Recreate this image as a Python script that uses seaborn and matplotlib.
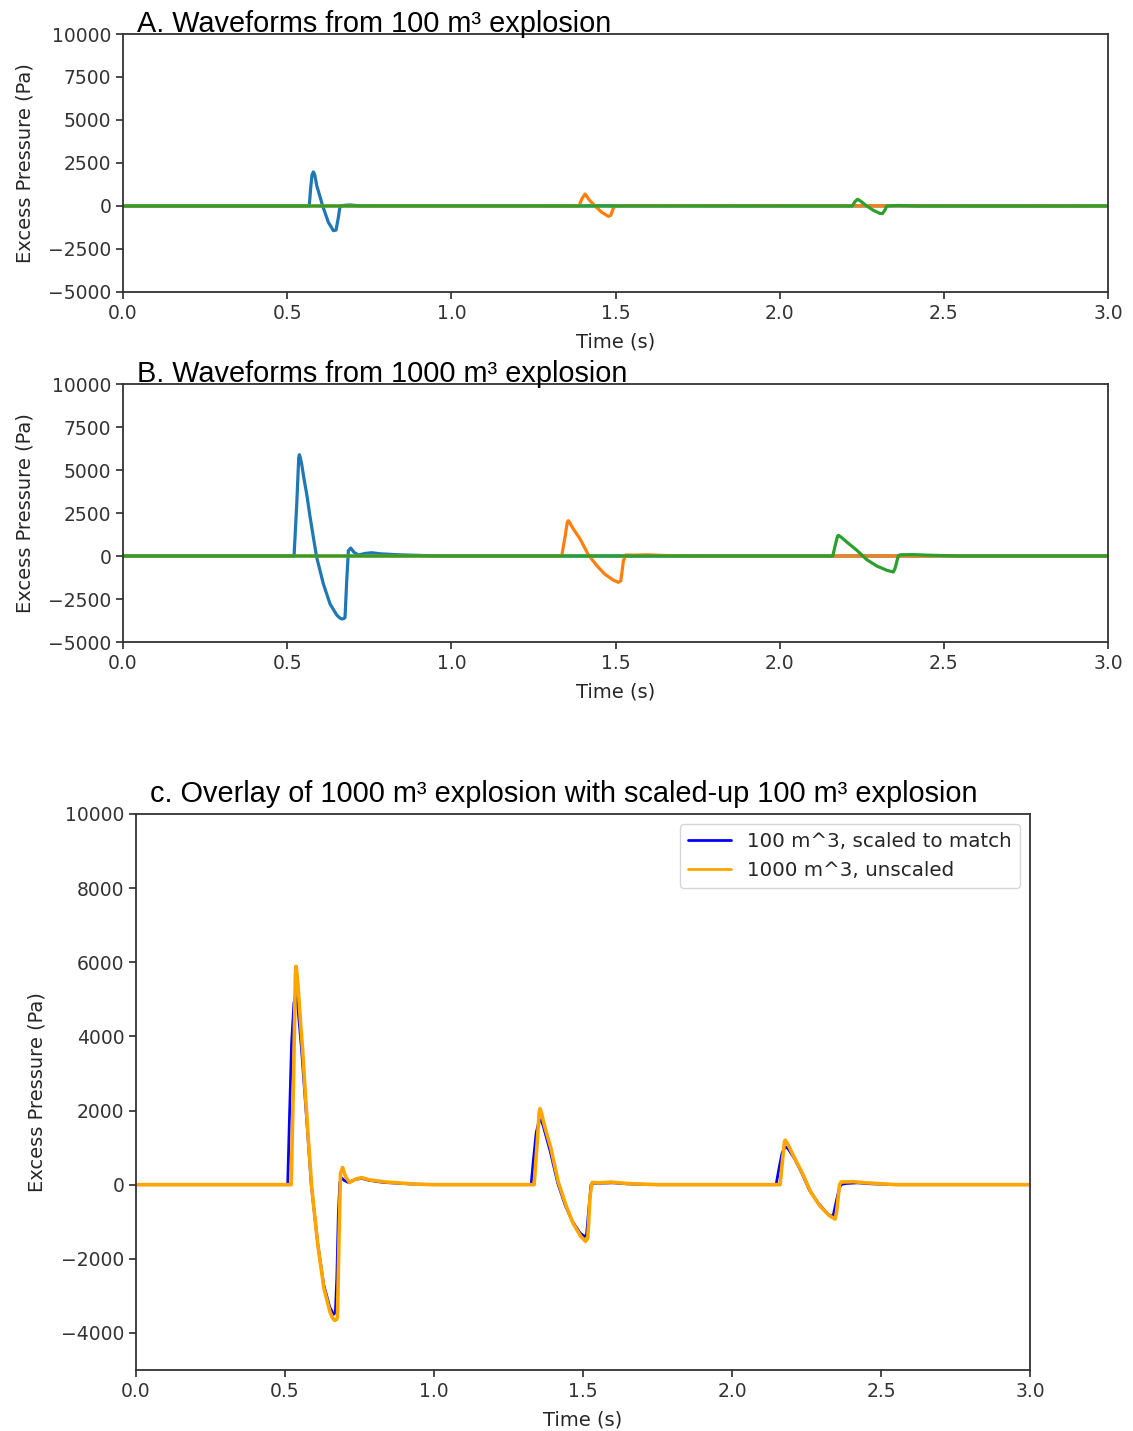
import numpy as np
import pandas as pd
import matplotlib
matplotlib.use("Agg")
import matplotlib.pyplot as plt
import seaborn as sns

# ---------------- data ----------------
# Panel A: 100 m^3 explosion, three stations (event portions; zero elsewhere)
a1_t = [0.567, 0.5716, 0.5756, 0.5797, 0.5838, 0.590, 0.599, 0.608, 0.6254, 0.6406, 0.6487, 0.6558, 0.661, 0.675, 0.691, 0.722]
a1_p = [0, 1080, 1820, 1980, 1820, 1180, 600, 0, -950, -1435, -1400, -660, 0, 40, 60, 10]
a2_t = [1.3888, 1.397, 1.4071, 1.420, 1.4376, 1.458, 1.478, 1.4853, 1.4934, 1.4985, 1.53]
a2_p = [0, 400, 700, 350, 0, -370, -600, -550, -120, 0, 20]
a3_t = [2.221, 2.229, 2.237, 2.245, 2.265, 2.285, 2.305, 2.313, 2.320, 2.326, 2.36, 2.42]
a3_p = [0, 250, 390, 300, 0, -250, -430, -440, -250, 0, 30, 0]

# Panel B: 1000 m^3 explosion, three stations
b1_t = [0.5208, 0.529, 0.535, 0.537, 0.540, 0.544, 0.551, 0.5594, 0.569, 0.5797, 0.5898, 0.6102, 0.6305,
        0.6508, 0.660, 0.666, 0.6725, 0.6761, 0.6812, 0.6863, 0.6934, 0.7036, 0.7168, 0.737, 0.7574,
        0.7827, 0.8335, 0.935, 1.0]
b1_p = [0, 3000, 5700, 5890, 5700, 5350, 4500, 3600, 2350, 1080, -80, -1630, -2790,
        -3430, -3600, -3660, -3640, -3570, -1440, 310, 465, 210, 58, 150, 190,
        130, 75, 15, 0]
b2_t = [1.336, 1.346, 1.353, 1.356, 1.360, 1.3715, 1.392, 1.417, 1.443, 1.467, 1.493, 1.5086, 1.516,
        1.524, 1.531, 1.554, 1.595, 1.65, 1.75]
b2_p = [0, 1100, 1950, 2050, 1950, 1570, 990, 75, -560, -1050, -1400, -1530, -1440,
        -270, 60, 50, 70, 30, 0]
b3_t = [2.1615, 2.170, 2.176, 2.1787, 2.183, 2.19, 2.204, 2.235, 2.265, 2.2955, 2.326, 2.346, 2.351,
        2.361, 2.366, 2.407, 2.448, 2.55]
b3_p = [0, 700, 1150, 1200, 1150, 1050, 815, 330, -210, -580, -830, -930, -735,
        0, 70, 80, 50, 0]

# Panel C: 100 m^3 waveforms scaled to match (blue)
c1_t = [0.509, 0.515, 0.522, 0.530, 0.536, 0.542, 0.555, 0.575, 0.588, 0.61, 0.63, 0.65, 0.663, 0.669,
        0.674, 0.679, 0.684, 0.690, 0.698, 0.712, 0.735, 0.757, 0.78, 0.83, 0.93, 1.0]
c1_p = [0, 1800, 3800, 4900, 5150, 4900, 3700, 1500, 0, -1600, -2700, -3300, -3500, -3450,
        -2500, -800, 50, 180, 120, 60, 140, 170, 120, 60, 15, 0]
c2_t = [1.326, 1.334, 1.343, 1.352, 1.358, 1.366, 1.39, 1.415, 1.44, 1.465, 1.49, 1.505, 1.512, 1.519,
        1.527, 1.535, 1.56, 1.6, 1.65, 1.75]
c2_p = [0, 700, 1400, 1700, 1750, 1600, 900, 50, -550, -1000, -1300, -1400, -1350, -700,
        0, 40, 40, 50, 20, 0]
c3_t = [2.148, 2.158, 2.168, 2.177, 2.183, 2.19, 2.21, 2.235, 2.26, 2.29, 2.32, 2.333, 2.34, 2.35,
        2.36, 2.366, 2.38, 2.42, 2.46, 2.55]
c3_p = [0, 450, 850, 1000, 1010, 950, 700, 300, -150, -500, -780, -850, -820, -450,
        -100, 0, 30, 50, 25, 0]

t_start, t_end = 0.0, 3.0

titles = ["A. Waveforms from 100 m\u00b3 explosion",
          "B. Waveforms from 1000 m\u00b3 explosion",
          "c. Overlay of 1000 m\u00b3 explosion with scaled-up 100 m\u00b3 explosion"]
legend_labels = ["100 m^3, scaled to match", "1000 m^3, unscaled"]
ab_yticks = [-5000, -2500, 0, 2500, 5000, 7500, 10000]
c_yticks = [-4000, -2000, 0, 2000, 4000, 6000, 8000, 10000]
x_ticks = [0.0, 0.5, 1.0, 1.5, 2.0, 2.5, 3.0]


def full_series(*events):
    t = [t_start]
    p = [0]
    for et, ep in events:
        t += list(et)
        p += list(ep)
    t.append(t_end)
    p.append(0)
    return pd.DataFrame({"t": t, "p": p})


# ---------------- figure ----------------
sns.set_theme(style="ticks", rc={
    "axes.edgecolor": "#333333",
    "axes.linewidth": 1.3,
    "xtick.color": "#333333",
    "ytick.color": "#333333",
    "xtick.major.size": 5,
    "ytick.major.size": 5,
    "lines.solid_joinstyle": "round",
})
plt.rcParams["font.family"] = ["DejaVu Sans"]

fig = plt.figure(figsize=(11.33, 14.31), dpi=100)
axA = fig.add_axes([0.1086, 0.79595, 0.8694, 0.18029])
axB = fig.add_axes([0.1086, 0.55136, 0.8694, 0.18029])
axC = fig.add_axes([0.12003, 0.04263, 0.78906, 0.38854])

pal = sns.color_palette("tab10")
title_font = dict(family=["Liberation Sans", "DejaVu Sans"], fontsize=20.8, color="black")

for ax, evs, title in [(axA, [(a1_t, a1_p), (a2_t, a2_p), (a3_t, a3_p)], titles[0]),
                       (axB, [(b1_t, b1_p), (b2_t, b2_p), (b3_t, b3_p)], titles[1])]:
    for i, ev in enumerate(evs):
        df = full_series(ev)
        sns.lineplot(data=df, x="t", y="p", ax=ax, sort=False, estimator=None,
                     color=pal[i], linewidth=2.3)
    ax.set_xlim(0, 3)
    ax.set_ylim(-5000, 10000)
    ax.set_yticks(ab_yticks)
    ax.set_xticks(x_ticks)
    ax.tick_params(labelsize=13.5)
    ax.set_xlabel("Time (s)", fontsize=14, labelpad=7)
    ax.set_ylabel("Excess Pressure (Pa)", fontsize=14, labelpad=10)
    ax.text(0.0142, 1.008, title, transform=ax.transAxes, ha="left", va="baseline", **title_font)

dfC_blue = full_series((c1_t, c1_p), (c2_t, c2_p), (c3_t, c3_p))
dfC_orange = full_series((b1_t, b1_p), (b2_t, b2_p), (b3_t, b3_p))
sns.lineplot(data=dfC_blue, x="t", y="p", ax=axC, sort=False, estimator=None,
             color="blue", linewidth=2.0, label=legend_labels[0])
sns.lineplot(data=dfC_orange, x="t", y="p", ax=axC, sort=False, estimator=None,
             color="orange", linewidth=2.6, label=legend_labels[1])
axC.set_xlim(0, 3)
axC.set_ylim(-5000, 10000)
axC.set_yticks(c_yticks)
axC.set_xticks(x_ticks)
axC.tick_params(labelsize=13.5)
axC.set_xlabel("Time (s)", fontsize=14, labelpad=7)
axC.set_ylabel("Excess Pressure (Pa)", fontsize=14, labelpad=10)
axC.text(0.0157, 1.022, titles[2], transform=axC.transAxes, ha="left", va="baseline", **title_font)
leg = axC.legend(loc="upper right", fontsize=14.3, frameon=True, handlelength=2.2)
for h in leg.get_lines():
    h.set_linewidth(2.0)

fig.savefig("out.png", dpi=100)
